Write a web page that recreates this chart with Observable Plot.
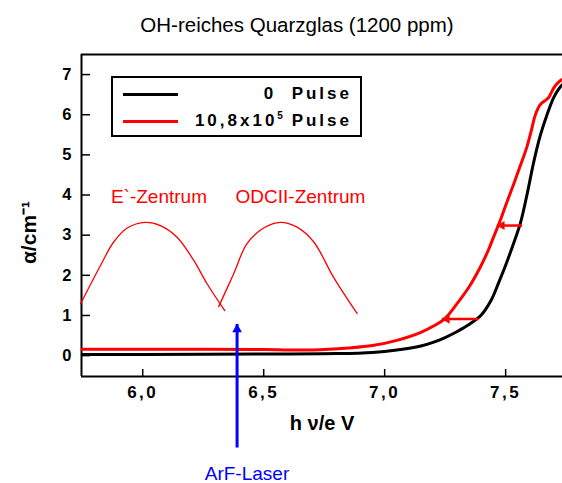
<!DOCTYPE html>
<html><head><meta charset="utf-8">
<script src="https://cdn.jsdelivr.net/npm/d3@7"></script>
<script src="https://cdn.jsdelivr.net/npm/@observablehq/plot@0.6"></script>
<style>
body{margin:0;background:#fff;}
#wrap{position:relative;width:562px;height:483px;font-family:"Liberation Sans",Arial,sans-serif;overflow:hidden;}
#wrap svg{overflow:visible;}
g[aria-label="x-axis tick label"] text{letter-spacing:2.5px;}
.leg{position:absolute;left:111px;top:76px;width:251px;height:61px;border:2px solid #000;box-sizing:border-box;background:#fff;}
.ln{position:absolute;left:123px;width:55px;height:3px;}
.lt{position:absolute;right:210px;font-weight:bold;font-size:17px;line-height:20px;letter-spacing:3px;white-space:pre;}
.lt sup{font-size:10px;vertical-align:7px;line-height:0;letter-spacing:1px;}
</style></head><body><div id="wrap"></div>
<script>
// 0 Pulse (black)
const energyBlack = [5.75, 6.0, 6.5, 6.8, 6.95, 7.05, 7.15, 7.2, 7.25, 7.3, 7.35, 7.4, 7.44, 7.47, 7.5, 7.533, 7.561, 7.588, 7.616, 7.643, 7.671, 7.698, 7.719, 7.735];
const alphaBlack  = [0.03, 0.03, 0.04, 0.05, 0.08, 0.14, 0.24, 0.33, 0.45, 0.6, 0.78, 1.02, 1.38, 1.8, 2.25, 2.8, 3.3, 4.0, 4.82, 5.48, 6.0, 6.42, 6.64, 6.75];
// 10,8x10^5 Pulse (red)
const energyRed = [5.75, 6.0, 6.5, 6.7, 6.85, 6.95, 7.05, 7.15, 7.2, 7.25, 7.3, 7.35, 7.395, 7.43, 7.45, 7.478, 7.505, 7.533, 7.56, 7.588, 7.605, 7.623, 7.643, 7.665, 7.678, 7.699, 7.72, 7.735];
const alphaRed  = [0.16, 0.16, 0.15, 0.14, 0.19, 0.25, 0.38, 0.58, 0.73, 0.93, 1.3, 1.72, 2.2, 2.65, 2.95, 3.37, 3.82, 4.27, 4.72, 5.2, 5.58, 6.0, 6.25, 6.36, 6.43, 6.67, 6.82, 6.88];
// E`-Zentrum band (thin red)
const energyE = [5.743, 5.825, 5.88, 5.936, 6.011, 6.073, 6.142, 6.211, 6.266, 6.339];
const alphaE  = [1.29, 2.24, 2.83, 3.18, 3.32, 3.24, 2.95, 2.37, 1.79, 1.12];
// ODCII-Zentrum band (thin red)
const energyODC = [6.314, 6.376, 6.431, 6.5, 6.569, 6.638, 6.707, 6.789, 6.886];
const alphaODC  = [1.22, 2.04, 2.79, 3.18, 3.32, 3.2, 2.83, 1.95, 1.05];
// shift arrows (from black to red)
const shiftFromX = [7.388, 7.568];
const shiftToX   = [7.237, 7.464];
const shiftY     = [0.91, 3.24];
// ArF laser arrow
const laserE = [6.39];
const laserFrom = [-2.29];
const laserTo = [0.79];
// annotation labels
const noteText = ["E`-Zentrum", "ODCII-Zentrum", "ArF-Laser"];
const noteX = [6.067, 6.652, 6.431];
const noteY = [3.95, 3.95, -2.94];
const noteColor = ["red", "red", "blue"];
// axes
const xTicks = [6.0, 6.5, 7.0, 7.5];
const yTicks = [0, 1, 2, 3, 4, 5, 6, 7];
const xDomain = [5.747, 7.735];
const yDomain = [-0.52, 7.5];
const titleText = "OH-reiches Quarzglas (1200 ppm)";
const xLabel = "h ν/e V";
const yLabel = "α/cm⁻¹";

const black = energyBlack.map((e, i) => ({e, a: alphaBlack[i]}));
const red = energyRed.map((e, i) => ({e, a: alphaRed[i]}));
const bandE = energyE.map((e, i) => ({e, a: alphaE[i]}));
const bandO = energyODC.map((e, i) => ({e, a: alphaODC[i]}));
const shifts = shiftFromX.map((x1, i) => ({x1, x2: shiftToX[i], y: shiftY[i]}));
const laser = laserE.map((x, i) => ({x, y1: laserFrom[i], y2: laserTo[i]}));
const notes = noteText.map((t, i) => ({t, x: noteX[i], y: noteY[i], c: noteColor[i]}));
const fmt = d => d3.format(".1f")(d).replace(".", ",");

const font = "'Liberation Sans', Arial, sans-serif";
const chart = Plot.plot({
  width: 562, height: 483,
  marginLeft: 81, marginRight: 0, marginTop: 54, marginBottom: 107,
  style: {fontFamily: font, background: "white", color: "black"},
  x: {domain: xDomain},
  y: {domain: yDomain},
  marks: [
    Plot.axisX(xTicks, {tickSize: 0, tickPadding: 9, tickFormat: fmt, fontSize: 17, fontWeight: "bold", label: null}),
    Plot.axisY(yTicks, {tickSize: 0, tickPadding: 10, tickFormat: d => String(d), fontSize: 16.5, fontWeight: "bold", label: null}),
    Plot.tickX(xTicks, {x: d => d, insetTop: 315, stroke: "black", strokeWidth: 1.5}),
    Plot.tickY(yTicks, {y: d => d, insetRight: 472, stroke: "black", strokeWidth: 1.5}),
    Plot.ruleX([xDomain[0]], {stroke: "black", strokeWidth: 2}),
    Plot.ruleY([yDomain[0], yDomain[1]], {stroke: "black", strokeWidth: 2}),
    Plot.line(bandE, {x: "e", y: "a", stroke: "red", strokeWidth: 1.3, curve: "catmull-rom"}),
    Plot.line(bandO, {x: "e", y: "a", stroke: "red", strokeWidth: 1.3, curve: "catmull-rom"}),
    Plot.line(black, {x: "e", y: "a", stroke: "black", strokeWidth: 3, curve: "catmull-rom"}),
    Plot.line(red, {x: "e", y: "a", stroke: "red", strokeWidth: 3, curve: "catmull-rom"}),
    Plot.link(shifts, {x1: "x1", y1: "y", x2: "x2", y2: "y", stroke: "red", strokeWidth: 2.5}),
    Plot.dot(shifts, {x: "x2", y: "y", symbol: "triangle", rotate: -90, r: 3.4, fill: "red", stroke: "none", dx: 5}),
    Plot.link(laser, {x1: "x", y1: "y1", x2: "x", y2: "y2", stroke: "blue", strokeWidth: 3}),
    Plot.dot(laser, {x: "x", y: "y2", symbol: "triangle", r: 3.6, fill: "blue", stroke: "none", dy: 5.5}),
    Plot.text(notes, {x: "x", y: "y", text: "t", fill: "c", fontSize: 19, textAnchor: "middle", lineAnchor: "middle"}),
    Plot.text([titleText], {frameAnchor: "top", dx: -25, dy: -29, fontSize: 20.5, textAnchor: "middle", lineAnchor: "middle", fill: "black"}),
    Plot.text([xLabel], {frameAnchor: "bottom", dx: 0, dy: 47, fontSize: 20, fontWeight: "bold", textAnchor: "middle", lineAnchor: "middle", fill: "black"}),
    Plot.text([yLabel], {frameAnchor: "left", rotate: -90, dx: -52, dy: 17, fontSize: 21, fontWeight: "bold", textAnchor: "middle", lineAnchor: "middle", fill: "black"})
  ]
});
const wrap = document.getElementById("wrap");
wrap.appendChild(chart);
const leg = document.createElement("div");
leg.innerHTML = `<div class="leg"></div>
<div class="ln" style="top:93px;background:#000"></div>
<div class="ln" style="top:120px;background:#f00"></div>
<div class="lt" style="top:84px">0  Pulse</div>
<div class="lt" style="top:111px">10,8x10<sup>5</sup> Pulse</div>`;
while (leg.firstChild) wrap.appendChild(leg.firstChild);
</script>
</body></html>
